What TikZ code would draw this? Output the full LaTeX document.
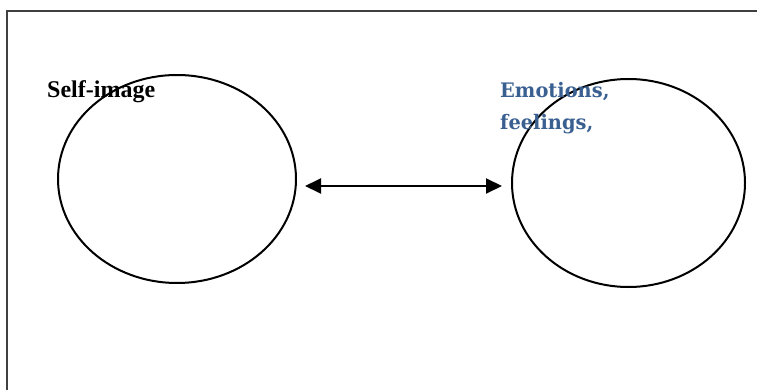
\documentclass[tikz,border=0pt]{standalone}
\usepackage{fontspec}
\setmainfont{Liberation Serif}
\newfontfamily\blueserif{DejaVu Serif}
\usetikzlibrary{shapes.geometric,arrows.meta}
\definecolor{framegray}{HTML}{404040}
\definecolor{accentblue}{HTML}{3A6091}
\tikzset{
  frameline/.style={draw=framegray,line width=1.4pt},
  circ/.style={draw=black,ellipse,line width=2pt,inner sep=0pt},
  dbl/.style={{Triangle[length=16pt,width=15pt]}-{Triangle[length=16pt,width=15pt]},line width=2pt},
  lbl/.style={anchor=base west,inner sep=0pt,font=\bfseries\fontsize{24}{32}\selectfont},
  blbl/.style={anchor=base west,inner sep=0pt,text=accentblue,align=left,font=\blueserif\bfseries\fontsize{20}{32}\selectfont}
}
\begin{document}
\begin{tikzpicture}[x=1pt,y=-1pt]
\useasboundingbox (0,0) rectangle (757,390);
\draw[frameline] (7,391) coordinate (fb) -- (7,11) coordinate (fc) -- (758,11) coordinate (fr);
\node[circ,minimum width=238pt,minimum height=208pt] (L) at (177,179) {};
\node[circ,minimum width=233pt,minimum height=208pt] (R) at (628.5,183) {};
\node[lbl] (t1) at (47,98) {Self-image};
\node[blbl] (t2) at (500,130) {\scalebox{0.97}[1]{Emotions,}\\\scalebox{0.97}[1]{feelings,}};
\coordinate (aL) at (305,186);
\coordinate (aR) at (502,186);
\draw[dbl] (aL) -- (aR);
\end{tikzpicture}
\end{document}
